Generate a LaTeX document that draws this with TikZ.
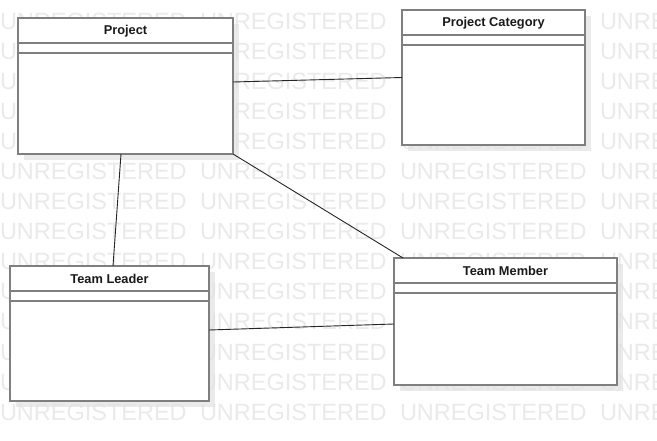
\documentclass[tikz,border=0pt]{standalone}
\usepackage{fontspec}
\setmainfont{Liberation Sans}
\usetikzlibrary{calc}
\definecolor{wmgray}{HTML}{EAEAEA}
\definecolor{bordergray}{HTML}{7F7F7F}
\definecolor{shadowgray}{HTML}{E2E2E2}
\tikzset{
  wm/.style={anchor=base west, inner sep=0pt, outer sep=0pt, text=wmgray, font=\fontsize{23.5}{24}\selectfont},
  classbox/.style={draw=bordergray, line width=1.8pt, fill=white, inner sep=0pt, outer sep=0pt, anchor=north west},
  shadowbox/.style={fill=shadowgray, opacity=0.7},
  sep/.style={draw=bordergray, line width=1.8pt},
  title/.style={font=\bfseries\fontsize{12.8}{14}\selectfont, inner sep=0pt, text=black!90},
  link/.style={draw=black!85, line width=0.9pt}
}
\begin{document}
\begin{tikzpicture}[x=1pt, y={(0pt,-1pt)}]
\clip (0,0) rectangle (657,441);
\fill[white] (0,0) rectangle (657,441);
% watermark
\foreach \i in {0,...,3}{
  \foreach \k in {0,...,13}{
    \node[wm] (w\i-\k) at ({200*\i},{30+30*\k}) {UNREGISTERED};
  }
}
% shadows
\fill[shadowbox] (24,24) rectangle (239,160);
\fill[shadowbox] (408,16) rectangle (591,151);
\fill[shadowbox] (16,272) rectangle (215,407);
\fill[shadowbox] (400,264) rectangle (623,391);
% boxes
\node[classbox, minimum width=215pt, minimum height=136pt] (project) at (18,18) {};
\node[classbox, minimum width=183pt, minimum height=135pt] (cat) at (402,10) {};
\node[classbox, minimum width=199pt, minimum height=135pt] (leader) at (10,266) {};
\node[classbox, minimum width=223pt, minimum height=127pt] (member) at (394,258) {};
% compartments and titles
\foreach \n/\t in {project/Project, cat/Project Category, leader/Team Leader, member/Team Member}{
  \draw[sep] ($(\n.north west)+(0,25)$) -- ($(\n.north east)+(0,25)$);
  \draw[sep] ($(\n.north west)+(0,35)$) -- ($(\n.north east)+(0,35)$);
  \node[title] (\n-title) at ($(\n.north)+(0,13)$) {\t};
}
% connectors
\draw[link] ($(project.east)+(0,-4)$) -- (cat.west);
\draw[link] ($(project.south)+(-4.5,0)$) -- ($(leader.north)+(3.5,0)$);
\draw[link] (project.south east) -- ($(member.north west)+(9,0)$);
\draw[link] ($(leader.east)+(0,-3.5)$) -- ($(member.west)+(0,2.5)$);
\end{tikzpicture}
\end{document}
